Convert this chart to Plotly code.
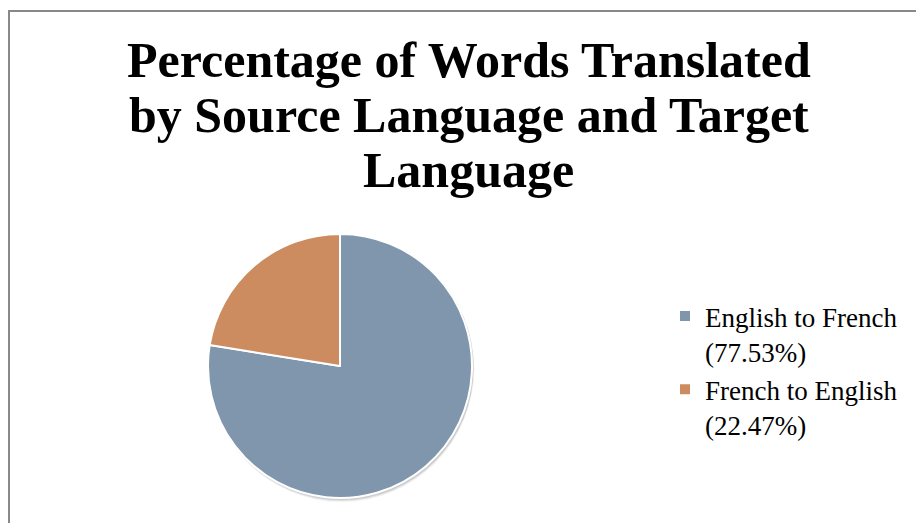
import plotly.graph_objects as go

labels = ["English to French<br>(77.53%)", "French to English<br>(22.47%)"]
values = [77.53, 22.47]
colors = ["#7F96AD", "#CC8C5F"]
title_lines = ["Percentage of Words Translated", "by Source Language and Target", "Language"]

W, H = 916, 523

def px(x):
    return x / W

def py(y):
    return 1 - y / H

# pie placement (page pixels)
cx, cy, r = 340, 366, 132

fig = go.Figure(go.Pie(
    labels=labels,
    values=values,
    sort=False,
    direction="clockwise",
    rotation=0,
    textinfo="none",
    hoverinfo="label",
    marker=dict(colors=colors, line=dict(color="white", width=2)),
    domain=dict(x=[px(cx - r), px(cx + r)], y=[py(cy + r), py(cy - r)]),
))

title_font = dict(family="Liberation Serif", size=50, color="black")
title_y = [60, 115, 170]
annotations = [
    dict(text="<b>%s</b>" % t, x=px(469), y=py(yy), xref="paper", yref="paper",
         xanchor="center", yanchor="middle", showarrow=False, font=title_font)
    for t, yy in zip(title_lines, title_y)
]

shapes = [
    dict(type="rect", xref="paper", yref="paper",
         x0=px(9), x1=1.05, y0=-0.05, y1=py(11),
         line=dict(color="#888888", width=2), fillcolor="rgba(0,0,0,0)"),
]
# soft shadow under the pie
for d, a in [(4, 0.05), (3, 0.07), (2, 0.09)]:
    shapes.append(dict(type="circle", xref="paper", yref="paper", layer="below",
                       x0=px(cx - r + 1), x1=px(cx + r + 1 + d * 0.3),
                       y0=py(cy + r + d), y1=py(cy - r + 1),
                       line=dict(width=0), fillcolor="rgba(0,0,0,%s)" % a))

fig.update_layout(
    width=W, height=H,
    margin=dict(l=0, r=0, t=0, b=0),
    paper_bgcolor="white",
    plot_bgcolor="white",
    annotations=annotations,
    shapes=shapes,
    legend=dict(
        x=px(665), xanchor="left",
        y=py(292), yanchor="top",
        font=dict(family="Liberation Serif", size=27, color="black"),
        valign="top",
        itemwidth=30,
        tracegroupgap=0,
    ),
)

fig.write_html("out.html", config={"displayModeBar": False},
               post_script="document.body.style.margin='0';")
